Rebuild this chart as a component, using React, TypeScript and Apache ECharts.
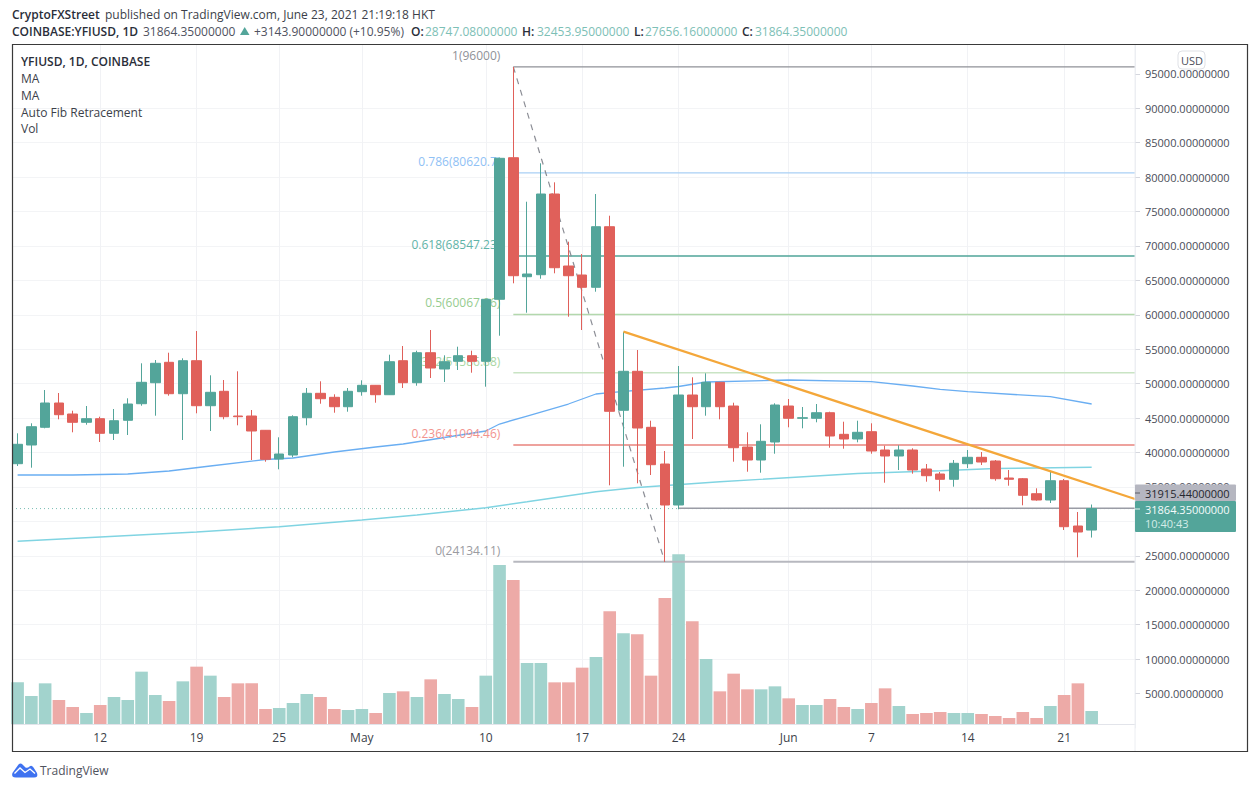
import React, { useEffect, useRef } from "react";
import * as echarts from "echarts";

const opens = [38382,41097,43668,47197,45599,44394,44917,42796,44684,47095,50144,53107,48547,53340,46804,48896,45309,45309,43232,39064,39645,45062,48605,48024,46659,48838,49767,48402,53340,50144,54501,52134,53252,54065,53252,62256,82819,65537,65828,77547,67092,65785,63998,72799,46136,51800,43668,38338,32384,48358,46659,50202,46761,40807,38919,41533,46761,44975,44975,45788,42650,41969,43029,40371,39500,40371,37612,36886,36116,38382,39311,38774,36305,36203,34025,33110,35913,29334,28747.08];
const closes = [41199,43755,47197,45498,44394,44917,42796,44626,47051,50202,52962,48547,53340,46804,48750,45208,45208,43130,39021,39790,45208,48605,47821,46659,48896,49767,48402,53194,50144,54501,52279,53194,54065,53252,62256,82732,65683,65930,77547,66845,65683,63998,72799,45991,51800,43566,38237,32384,48358,46659,50202,46659,40705,38919,41634,46906,44975,45062,45788,42404,41969,42942,40226,39500,40371,37467,36639,36116,38440,39311,38629,36203,36116,33793,33110,35913,29233,28463,31864.35];
const lows = [38048,37801,43522,44829,42942,44045,41533,41823,42549,46804,45352,48257,41823,45701,43130,44829,43958,38919,38672,37568,39311,43958,47095,45788,45933,48257,47240,48358,49375,49709,50827,50246,51989,51597,49564,56970,64579,60310,65247,66031,59729,57798,63359,35245,37946,35535,36741,24134,31760,41969,45352,44829,38672,37220,37075,39834,43668,43522,44394,40705,40560,41489,39834,35622,37467,36930,35768,34373,35042,37757,38193,35913,35187,32340,33009,32675,28754,24789,27656.16];
const highs = [42796,44249,49084,48649,46078,46761,45208,46325,47879,52962,53441,54501,53688,57652,51219,50537,51800,46180,43276,42215,45410,49375,50348,48460,49375,50493,49810,54211,55474,54792,57798,54124,55372,54792,62300,82848,96000,76429,82006,79246,70621,68834,77547,74396,57551,54893,44626,40226,52570,50928,51509,50246,47240,42942,44103,47153,47777,46616,47051,45933,44481,44626,44249,40996,41053,40618,38338,37176,38919,40371,40081,38919,37467,36305,34809,37220,36160,31368,32453.95];
const volumes = [2083,1400,2033,1200,850,550,950,1350,1200,2617,1450,1150,2133,2867,2417,1350,2033,2033,750,800,1050,1500,1350,750,700,750,550,1550,1633,1350,2233,1500,1250,850,2417,7950,7200,3050,3050,2083,2083,2817,3350,5633,4533,4483,2417,6300,8483,5133,3250,1633,2517,1733,1733,1883,1283,950,950,1250,850,750,1050,1783,900,500,550,600,550,550,500,400,300,600,300,900,1450,2033,650];

const ma1Bars = [0,4,8,11,14,18,20,23,26,28,31,34,35,37,40,42,43,47,48,50,56,62,65,67,69,75,78];
const ma1Values = [36740,36740,36886,37322,38047,38992,39209,40081,40807,41242,42186,43130,44147,45309,47051,48503,48692,49375,49592,50246,50537,50290,49665,49185,48838,48111,47051];
const ma2Bars = [0,6,13,19,25,29,34,37,42,45,51,61,67,71,78];
const ma2Values = [27113,27737,28463,29233,30206,30932,31992,32863,34316,34925,35768,36958,37365,37685,37859];

const timeTickBars = [6,13,19,25,34,41,48,56,62,69,76];
const timeTickLabels = ["12","19","25","May","10","17","24","Jun","7","14","21"];
const priceTicks = [5000,10000,15000,20000,25000,30000,35000,40000,45000,50000,55000,60000,65000,70000,75000,80000,85000,90000,95000];
const priceLabels = [5000,10000,15000,20000,25000,35000,40000,45000,50000,55000,60000,65000,70000,75000,80000,85000,90000,95000];

const fibLabels = ["1(96000)","0.786(80620.7)","0.618(68547.23)","0.5(60067.06)","0.382(51586.88)","0.236(41094.46)","0(24134.11)"];
const fibValues = [96000,80620.7,68547.23,60067.06,51586.88,41094.46,24134.11];
const fibLineColors = ["#8f9197","#a9cff5","#4fa498","#b3d8ad","#c9e4c4","#e9837d","#b7b8bf"];
const fibTextColors = ["#8f9197","#8fc1f5","#5fb3a8","#96cc8f","#a9d6a3","#f2938e","#9a9ba1"];
const fibWidths = [1.2,1.3,1.5,1.5,1.5,1.4,2];

const fibStartBar = 36;
const trendBars = [44,81.15];
const trendValues = [57551,33254];
const diagonalBars = [36,47];
const diagonalValues = [96000,24134.11];
const lastClose = 31864.35;
const fibExtra = 31915.44;

const UP = "#53a59a";
const DOWN = "#e0605a";
const UP_VOL = "#a2d3cd";
const DOWN_VOL = "#edaaa7";
const FONT = "'Open Sans', sans-serif";
const X_MIN = -0.4067;
const X_MAX = 81.147;

echarts.graphic.registerShape(
  "tvlogo",
  echarts.graphic.extendPath(
    "M0.4 10.5 L6.5 2 Q8.5 0 10.5 2 L13.5 5 Q15.5 6 17.5 4 Q19.5 2 21.5 5 L25 10.5 Q26.5 15 22 15 L4 15 Q-1 15 0.4 10.5 Z",
    {}
  ) as any
);

function txt(x: number, y: number, text: string, fill = "#2a2e39", fontWeight: any = "normal", fontSize = 12) {
  return {
    type: "text",
    x,
    y,
    z: 100,
    style: { text, fill, fontFamily: FONT, fontSize, fontWeight, textVerticalAlign: "middle", textBaseline: "middle" },
  };
}

export default function App() {
  const ref = useRef<HTMLDivElement>(null);
  useEffect(() => {
    document.body.style.margin = "0";
    document.body.style.background = "#fff";
    const chart = echarts.init(ref.current!, undefined, { renderer: "svg" });
    const candle = opens.map((o, i) => [i, o, closes[i], lows[i], highs[i]]);
    const vols = volumes.map((v, i) => ({
      value: [i, v],
      itemStyle: { color: closes[i] >= opens[i] ? UP_VOL : DOWN_VOL },
    }));
    const fibSeries = fibValues.map((v, k) => ({
      type: "line",
      z: 1,
      silent: true,
      symbol: "circle",
      symbolSize: 0,
      showSymbol: true,
      lineStyle: { color: fibLineColors[k], width: fibWidths[k] },
      itemStyle: { color: fibLineColors[k] },
      data: [
        {
          value: [fibStartBar, v],
          label: {
            show: true,
            position: "left",
            distance: 13,
            offset: [0, -11.5],
            formatter: fibLabels[k],
            color: fibTextColors[k],
            fontFamily: FONT,
            fontSize: 12,
          },
        },
        { value: [X_MAX, v], label: { show: false } },
      ],
    }));
    const option: any = {
      animation: false,
      backgroundColor: "#fff",
      grid: [
        { left: 12, top: 45, width: 1123, height: 683 },
        { left: 12, top: 45, width: 1123, height: 679 },
      ],
      xAxis: [
        { type: "value", gridIndex: 0, min: X_MIN, max: X_MAX, show: false, splitLine: { show: false } },
        {
          type: "value",
          gridIndex: 1,
          min: X_MIN,
          max: X_MAX,
          axisLine: { show: true, onZero: false, lineStyle: { color: "#e2e4ea" } },
          axisTick: { show: false, customValues: timeTickBars },
          splitLine: { show: true, lineStyle: { color: "#f1f2f5", width: 1 } },
          axisLabel: {
            customValues: timeTickBars,
            margin: 7,
            color: "#3c3f4a",
            fontFamily: FONT,
            fontSize: 12,
            hideOverlap: false,
            formatter: (v: number) => timeTickLabels[timeTickBars.indexOf(Math.round(v))] ?? "",
          },
        },
      ],
      yAxis: [
        {
          type: "value",
          gridIndex: 0,
          position: "right",
          min: 0,
          max: 99187,
          interval: 5000,
          axisLine: { show: true, onZero: false, lineStyle: { color: "#eceef2" } },
          axisTick: { show: true, length: 5, lineStyle: { color: "#d5d7de" }, customValues: priceTicks },
          splitLine: { show: true, showMinLine: false, showMaxLine: false, lineStyle: { color: "#f3f4f6", width: 1 } },
          axisLabel: {
            customValues: priceLabels,
            margin: 10,
            color: "#4a4d58",
            fontFamily: FONT,
            fontSize: 11,
            hideOverlap: false,
            formatter: (v: number) => v.toFixed(8),
          },
        },
        { type: "value", gridIndex: 1, min: 0, max: 33950, show: false, splitLine: { show: false } },
      ],
      series: [
        {
          type: "bar",
          xAxisIndex: 1,
          yAxisIndex: 1,
          z: 0,
          barWidth: 12.6,
          silent: true,
          data: vols,
        },
        ...fibSeries,
        {
          type: "line",
          z: 1,
          silent: true,
          showSymbol: false,
          lineStyle: { color: "#79bdb3", width: 1, type: [1, 3] },
          data: [[X_MIN, lastClose], [X_MAX, lastClose]],
        },
        {
          type: "line",
          z: 1,
          silent: true,
          showSymbol: false,
          lineStyle: { color: "#9a9ca5", width: 1.6 },
          data: [[48, fibExtra], [X_MAX, fibExtra]],
        },
        {
          type: "line",
          z: 1,
          silent: true,
          showSymbol: false,
          lineStyle: { color: "#8b8d95", width: 1.2, type: [6, 6] },
          data: diagonalBars.map((b, i) => [b, diagonalValues[i]]),
        },
        {
          type: "line",
          z: 1,
          silent: true,
          showSymbol: false,
          lineStyle: { color: "#6aaef2", width: 1.3 },
          data: ma1Bars.map((b, i) => [b, ma1Values[i]]),
        },
        {
          type: "line",
          z: 1,
          silent: true,
          showSymbol: false,
          lineStyle: { color: "#80d4e2", width: 1.4 },
          data: ma2Bars.map((b, i) => [b, ma2Values[i]]),
        },
        {
          type: "candlestick",
          z: 2,
          silent: true,
          barWidth: 10,
          itemStyle: { color: UP, color0: DOWN, borderColor: UP, borderColor0: DOWN, borderWidth: 1 },
          data: candle,
        },
        {
          type: "line",
          z: 3,
          silent: true,
          showSymbol: false,
          lineStyle: { color: "#f4a73a", width: 2.3 },
          data: trendBars.map((b, i) => [b, trendValues[i]]),
        },
      ],
      graphic: [
        { type: "rect", z: 99, shape: { x: 12.5, y: 44.5, width: 1235, height: 707 }, style: { fill: "none", stroke: "#3a3a3a", lineWidth: 1.2 } },
        { type: "line", z: 90, shape: { x1: 1135, y1: 45, x2: 1135, y2: 751 }, style: { stroke: "#eceef2", lineWidth: 1 } },
        txt(12, 14, "CryptoFXStreet", "#2a2e39", 600),
        txt(105, 14, "published on TradingView.com, June 23, 2021 21:19:18 HKT", "#3c3f4a"),
        txt(12, 31, "COINBASE:YFIUSD, 1D", "#2a2e39", 600),
        txt(143, 31, "31864.35000000", "#4f5260"),
        { type: "polygon", z: 100, shape: { points: [[240, 35], [249.5, 35], [244.7, 27]] }, style: { fill: UP } },
        txt(254, 31, "+3143.90000000 (+10.95%)", "#4f5260"),
        txt(411, 31, "O:", "#2a2e39", 600),
        txt(425, 31, "28747.08000000", "#7dc0b6"),
        txt(522, 31, "H:", "#2a2e39", 600),
        txt(537, 31, "32453.95000000", "#7dc0b6"),
        txt(634, 31, "L:", "#2a2e39", 600),
        txt(645, 31, "27656.16000000", "#7dc0b6"),
        txt(742, 31, "C:", "#2a2e39", 600),
        txt(755, 31, "31864.35000000", "#7dc0b6"),
        txt(21, 61, "YFIUSD, 1D, COINBASE", "#2a2e39", 600),
        txt(21, 78, "MA", "#3c3f4a"),
        txt(21, 95, "MA", "#3c3f4a"),
        txt(21, 112, "Auto Fib Retracement", "#3c3f4a"),
        txt(21, 128, "Vol", "#3c3f4a"),
        { type: "rect", z: 100, shape: { x: 1178, y: 51, width: 27, height: 18, r: 4 }, style: { fill: "#fff", stroke: "#dfe1e6", lineWidth: 1 } },
        txt(1181, 60.5, "USD", "#4a4d58", "normal", 11),
        { type: "rect", z: 100, shape: { x: 1135, y: 484.5, width: 101, height: 16.5, r: 1 }, style: { fill: "#b5b6c0" } },
        { type: "line", z: 101, shape: { x1: 1135, y1: 493, x2: 1140, y2: 493 }, style: { stroke: "#5d5f68", lineWidth: 1 } },
        txt(1145, 493, "31915.44000000", "#26272e", "normal", 11),
        { type: "rect", z: 100, shape: { x: 1135, y: 501, width: 101, height: 31, r: 1 }, style: { fill: UP } },
        { type: "line", z: 101, shape: { x1: 1135, y1: 509, x2: 1140, y2: 509 }, style: { stroke: "#e4f2f0", lineWidth: 1 } },
        txt(1145, 509, "31864.35000000", "#f4fbfa", "normal", 11),
        txt(1145, 523.5, "10:40:43", "#d4ece8", "normal", 11),
        { type: "tvlogo", z: 100, x: 12, y: 762.5, style: { fill: "#3f72f0" } },
        { type: "polyline", z: 101, shape: { points: [[2.5, 11], [8, 5.5], [13, 10], [18, 6.5], [23, 11]] }, x: 12, y: 762.5, style: { stroke: "#fff", fill: "none", lineWidth: 1.3 } },
        txt(40, 770, "TradingView", "#50535e", "normal", 12),
      ],
    };
    chart.setOption(option);
    return () => chart.dispose();
  }, []);
  return <div ref={ref} style={{ position: "fixed", left: 0, top: 0, width: 1258, height: 792, background: "#fff" }} />;
}
